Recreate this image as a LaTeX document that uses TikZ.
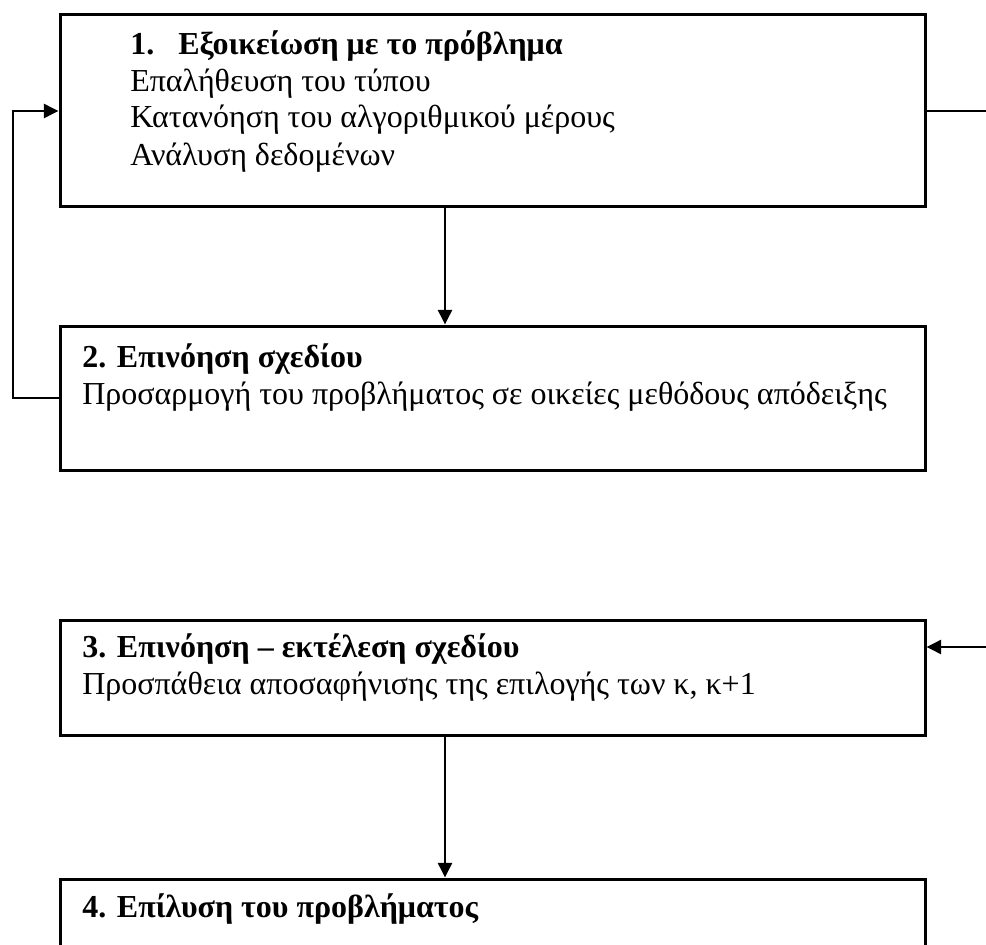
\documentclass[tikz,border=0pt]{standalone}
\usepackage{fontspec}
\setmainfont{Liberation Serif}
\usetikzlibrary{arrows.meta}
\begin{document}
\begin{tikzpicture}[x=0.75pt,y=-0.75pt,
  box/.style={draw,line width=2.25pt,inner sep=0pt,minimum width=648.75pt},
  txt/.style={anchor=base west,inner sep=0pt,font=\fontsize{24}{27.6}\selectfont},
  hd/.style={txt,font=\fontsize{24}{27.6}\selectfont\bfseries},
  link/.style={line width=1.9pt},
  arr/.style={link,-{Triangle[length=11pt,width=10.5pt]}}]
\useasboundingbox (0,0) rectangle (986,945);
\clip (0,0) rectangle (986,945);

% the four stage boxes
\node[box,minimum height=144pt] (b1) at (492.5,111) {};
\node[box,minimum height=108pt] (b2) at (492.5,398) {};
\node[box,minimum height=86.25pt] (b3) at (492.5,677.5) {};
\node[box,minimum height=90.75pt] (b4) at (492.5,939.5) {};

% stage 1
\node[hd] (t1n) at (130,55) {1.};
\node[hd] (t1h) at (178,55) {Εξοικείωση με το πρόβλημα};
\node[txt] (t1a) at (130,92) {Επαλήθευση του τύπου};
\node[txt] (t1b) at (130,128) {Κατανόηση του αλγοριθμικού μέρους};
\node[txt] (t1c) at (130,166) {Ανάλυση δεδομένων};

% stage 2
\node[hd] (t2h) at (82,367) {2. Επινόηση σχεδίου};
\node[txt] (t2a) at (82,404) {Προσαρμογή του προβλήματος σε οικείες μεθόδους απόδειξης};

% stage 3
\node[hd] (t3h) at (82,657) {3. Επινόηση – εκτέλεση σχεδίου};
\node[txt] (t3a) at (82,694) {Προσπάθεια αποσαφήνισης της επιλογής των κ, κ+1};

% stage 4
\node[hd] (t4h) at (82,917) {4. Επίλυση του προβλήματος};

% guide coordinates for the connectors
\coordinate (ax) at (445,0);
\coordinate (lx) at (13,0);
\coordinate (rx) at (986,0);
\coordinate (in3) at (986,647);

% connectors
\draw[arr] (b1.south -| ax) -- (b2.north -| ax);
\draw[arr] (b2.west) -- (b2.west -| lx) -- (b1.west -| lx) -- (b1.west);
\draw[link] (b1.east) -- (b1.east -| rx);
\draw[arr] (in3) -- (in3 -| b3.east);
\draw[arr] (b3.south -| ax) -- (b4.north -| ax);
\end{tikzpicture}
\end{document}
